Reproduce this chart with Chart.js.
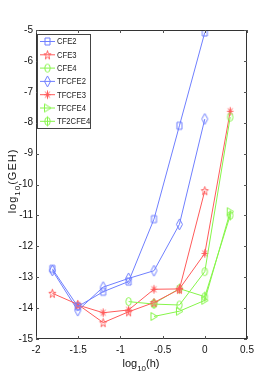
<!DOCTYPE html>
<html>
<head>
<meta charset="utf-8">
<script src="https://cdn.jsdelivr.net/npm/chart.js@4.4.1/dist/chart.umd.min.js"></script>
<style>
html, body { margin: 0; padding: 0; background: #fff; }
#wrap { width: 273px; height: 382px; }
</style>
</head>
<body>
<div id="wrap"><canvas id="c"></canvas></div>
<script>
// log10(h) positions
const xVals = [-1.806, -1.505, -1.204, -0.903, -0.602, -0.301, 0, 0.301];

const seriesNames = ['CFE2', 'CFE3', 'CFE4', 'TFCFE2', 'TFCFE3', 'TFCFE4', 'TF2CFE4'];

// log10(GEH) per series, null = no point
const cfe2    = [-12.73, -13.95, -13.47, -13.14, -11.12, -8.10, -5.08, null];
const cfe3    = [-13.52, -13.88, -14.47, -14.12, -13.82, -13.39, -10.20, null];
const cfe4    = [null, null, null, -13.79, -13.87, -13.90, -12.82, -7.82];
const tfcfe2  = [-12.78, -14.08, -13.32, -13.04, -12.79, -11.29, -7.88, null];
const tfcfe3  = [null, -13.90, -14.15, -14.06, -13.39, -13.38, -12.23, -7.63];
const tfcfe4  = [null, null, null, null, -14.27, -14.10, -13.75, -10.88];
const tf2cfe4 = [null, null, null, null, -13.85, -13.37, -13.63, -11.00];

const xTicks = [-2, -1.5, -1, -0.5, 0, 0.5];
const yTicks = [-15, -14, -13, -12, -11, -10, -9, -8, -7, -6, -5];

const BLUE = '#6f7fff';
const RED = '#ff5a5a';
const GREEN = '#86f54a';

const NARROW = "'Liberation Sans Narrow', 'Liberation Sans', Arial, sans-serif";

// marker images (slightly taller than wide, like the stretched figure)
function marker(kind, color) {
    const cv = document.createElement('canvas');
    cv.width = 13; cv.height = 15;
    const g = cv.getContext('2d');
    const cx = 6.5, cy = 7.5;
    g.strokeStyle = color;
    g.lineWidth = 1;
    g.beginPath();
    if (kind === 'square') {
        g.rect(cx - 2.5, cy - 3.5, 5, 7);
    } else if (kind === 'circle') {
        g.ellipse(cx, cy, 2.7, 4, 0, 0, Math.PI * 2);
    } else if (kind === 'diamond') {
        g.moveTo(cx, cy - 5.5); g.lineTo(cx + 3, cy); g.lineTo(cx, cy + 5.5); g.lineTo(cx - 3, cy); g.closePath();
    } else if (kind === 'pentagram') {
        for (let i = 0; i < 10; i++) {
            const r = i % 2 === 0 ? 1 : 0.42;
            const a = -Math.PI / 2 + i * Math.PI / 5;
            const px = cx + Math.cos(a) * r * 3.6, py = cy + 0.5 + Math.sin(a) * r * 4.6;
            i === 0 ? g.moveTo(px, py) : g.lineTo(px, py);
        }
        g.closePath();
    } else if (kind === 'asterisk') {
        for (let i = 0; i < 4; i++) {
            const a = i * Math.PI / 4;
            g.moveTo(cx + Math.cos(a) * 3.2, cy + Math.sin(a) * 4.2);
            g.lineTo(cx - Math.cos(a) * 3.2, cy - Math.sin(a) * 4.2);
        }
    } else if (kind === 'triright') {
        g.moveTo(cx + 3.5, cy); g.lineTo(cx - 3, cy - 4); g.lineTo(cx - 3, cy + 4); g.closePath();
    } else if (kind === 'circleplus') {
        g.ellipse(cx, cy, 2.7, 4, 0, 0, Math.PI * 2);
        g.moveTo(cx, cy - 5); g.lineTo(cx, cy + 5);
    }
    g.stroke();
    return cv;
}

const allSeries = [cfe2, cfe3, cfe4, tfcfe2, tfcfe3, tfcfe4, tf2cfe4];
const colors = [BLUE, RED, GREEN, BLUE, RED, GREEN, GREEN];
const kinds = ['square', 'pentagram', 'circle', 'diamond', 'asterisk', 'triright', 'circleplus'];

const datasets = allSeries.map((vals, i) => ({
    label: seriesNames[i],
    data: xVals.map((x, j) => ({ x: x, y: vals[j] })).filter(p => p.y !== null),
    borderColor: colors[i],
    backgroundColor: colors[i],
    borderWidth: 1,
    pointStyle: marker(kinds[i], colors[i]),
    pointRadius: 5,
    pointHoverRadius: 5,
    showLine: true,
    tension: 0
}));

function drawSub(ctx, parts, x, y, align, spacing) {
    // parts: [text, size, dy]
    ctx.letterSpacing = (spacing || 0) + 'px';
    let total = 0;
    parts.forEach(p => { ctx.font = p[1] + 'px ' + NARROW; total += ctx.measureText(p[0]).width; });
    let cx = align === 'center' ? x - total / 2 : x;
    parts.forEach(p => {
        ctx.font = p[1] + 'px ' + NARROW;
        ctx.fillText(p[0], cx, y + p[2]);
        cx += ctx.measureText(p[0]).width;
    });
    ctx.letterSpacing = '0px';
}

const frame = {
    id: 'frame',
    afterDraw(chart) {
        const { ctx, chartArea: a, scales } = chart;
        const sx = scales.x, sy = scales.y;
        ctx.save();
        ctx.strokeStyle = '#333';
        ctx.lineWidth = 1;
        ctx.strokeRect(a.left + 0.5, a.top + 0.5, a.right - a.left - 1, a.bottom - a.top - 1);

        ctx.strokeStyle = '#555';
        ctx.beginPath();
        xTicks.forEach(v => {
            const px = Math.round(sx.getPixelForValue(v)) + 0.5;
            ctx.moveTo(px, a.bottom); ctx.lineTo(px, a.bottom - 3);
            ctx.moveTo(px, a.top); ctx.lineTo(px, a.top + 3);
        });
        yTicks.forEach(v => {
            const py = Math.round(sy.getPixelForValue(v)) + 0.5;
            ctx.moveTo(a.left, py); ctx.lineTo(a.left + 3, py);
            ctx.moveTo(a.right, py); ctx.lineTo(a.right - 3, py);
        });
        ctx.stroke();

        // legend box
        const lx = 37, ly = 34, lw = 53, lh = 94;
        ctx.fillStyle = '#fff';
        ctx.fillRect(lx, ly, lw, lh);
        ctx.strokeStyle = '#444';
        ctx.strokeRect(lx + 0.5, ly + 0.5, lw, lh);
        ctx.textBaseline = 'middle';
        ctx.textAlign = 'left';
        chart.data.datasets.forEach((ds, i) => {
            const yy = 41.5 + i * 13.3;
            ctx.strokeStyle = ds.borderColor;
            ctx.beginPath();
            ctx.moveTo(40, yy); ctx.lineTo(55, yy);
            ctx.stroke();
            const img = ds.pointStyle;
            ctx.drawImage(img, 47.5 - img.width / 2, yy - img.height / 2);
            ctx.fillStyle = '#222';
            ctx.font = '9px ' + NARROW;
            // condensed look of the original legend text
            ctx.save();
            ctx.translate(57, yy + 0.5);
            ctx.scale(0.85, 1);
            ctx.fillText(ds.label, 0, 0);
            ctx.restore();
        });

        // axis titles with subscripts
        ctx.fillStyle = '#111';
        ctx.textBaseline = 'alphabetic';
        drawSub(ctx, [['log', 11, 0], ['10', 8, 4], ['(h)', 11, 0]], 141, 367, 'center', 0);
        ctx.translate(16, 181);
        ctx.rotate(-Math.PI / 2);
        drawSub(ctx, [['log', 11, 0], ['10', 8, 4], ['(GEH)', 11, 0]], 0, 0, 'center', 1);
        ctx.restore();
    }
};

new Chart(document.getElementById('c'), {
    type: 'line',
    data: { datasets: datasets },
    options: {
        responsive: true,
        maintainAspectRatio: false,
        animation: false,
        layout: { padding: { left: 0, top: 30, right: 26, bottom: 0 } },
        plugins: { legend: { display: false }, tooltip: { enabled: false } },
        scales: {
            x: {
                type: 'linear',
                min: -2, max: 0.5,
                afterBuildTicks: s => { s.ticks = xTicks.map(v => ({ value: v })); },
                afterFit: s => { s.height = 43; },
                grid: { display: false, drawTicks: false },
                border: { display: false },
                ticks: { padding: 5, color: '#111', font: { family: NARROW, size: 10 },
                         callback: v => String(v) }
            },
            y: {
                type: 'linear',
                min: -15, max: -5,
                afterBuildTicks: s => { s.ticks = yTicks.map(v => ({ value: v })); },
                afterFit: s => { s.width = 36; },
                grid: { display: false, drawTicks: false },
                border: { display: false },
                ticks: { padding: 3, color: '#111', font: { family: NARROW, size: 10 },
                         callback: v => String(v) }
            }
        }
    },
    plugins: [frame]
});
</script>
</body>
</html>
